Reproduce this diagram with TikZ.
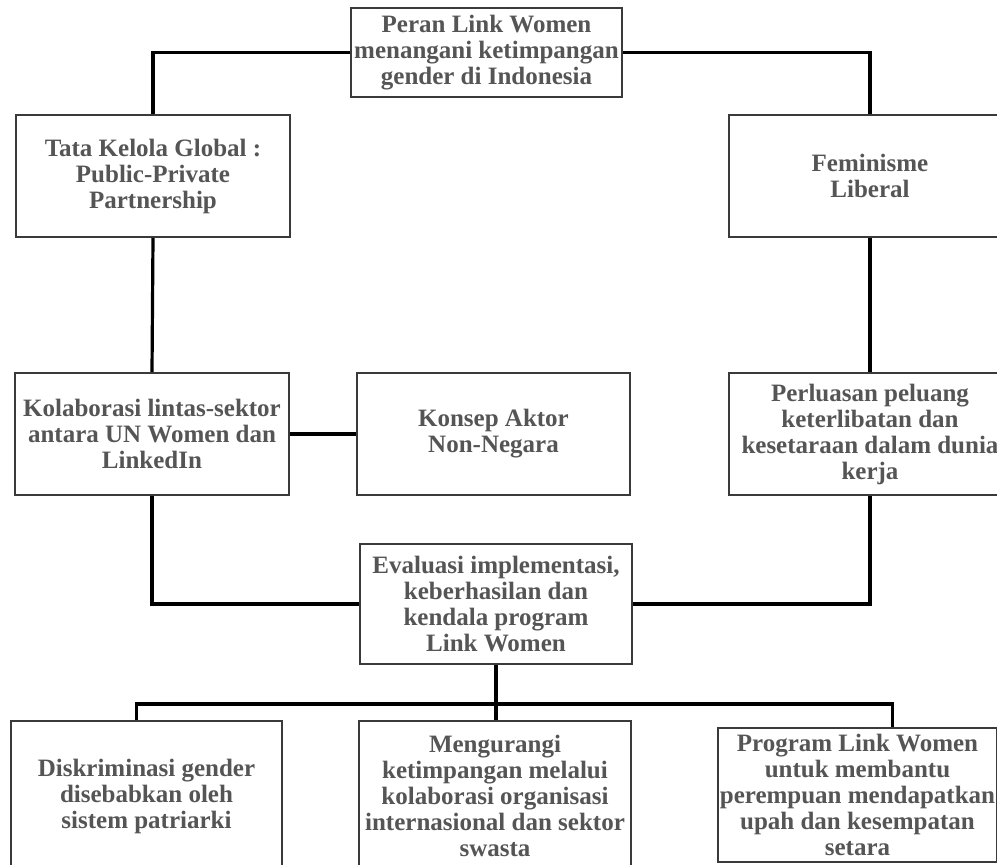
\documentclass[tikz,border=0pt]{standalone}
\usepackage{fontspec}
\setmainfont{Liberation Serif}
\usetikzlibrary{positioning,calc}
\definecolor{boxgray}{HTML}{3A3A3A}
\definecolor{textgray}{HTML}{555555}

\begin{document}
\begin{tikzpicture}[
		x=0.5pt,
		y=-0.5pt,
		line join=miter,
		kotak/.style={draw=boxgray,line width=1pt,fill=white,align=center,
			text=textgray,font=\fontsize{12.5}{13}\selectfont\bfseries,inner sep=1pt},
		garis/.style={line width=1.6pt,black}
	]
	
	% Page frame
	\useasboundingbox (0,0) rectangle (997,865);
	
	% Top box
	\node[kotak,minimum width=135.5pt,minimum height=44.5pt] (peran) at (486.5,52.5)
	{Peran Link Women\\menangani ketimpangan\\gender di Indonesia};
	
	% Theory boxes
	\node[kotak,minimum width=137pt,minimum height=61pt] (tata) at (153,176)
	{Tata Kelola Global :\\Public-Private\\Partnership};
	\node[kotak,minimum width=141pt,minimum height=61pt] (feminis) at (870,176)
	{Feminisme\\Liberal};
	
	% Middle row
	\node[kotak,minimum width=137pt,minimum height=61pt] (kolab) at (152,434)
	{Kolaborasi lintas-sektor\\antara UN Women dan\\LinkedIn};
	\node[kotak,minimum width=136.5pt,minimum height=61pt] (aktor) at (493.5,434)
	{Konsep Aktor\\Non-Negara};
	\node[kotak,minimum width=141pt,minimum height=61pt] (peluang) at (870,434)
	{Perluasan peluang\\keterlibatan dan\\kesetaraan dalam dunia\\kerja};
	
	% Evaluation box
	\node[kotak,minimum width=136pt,minimum height=60pt] (evaluasi) at (496,604)
	{Evaluasi implementasi,\\keberhasilan dan\\kendala program\\Link Women};
	
	% Bottom row
	\node[kotak,minimum width=135.5pt,minimum height=75pt] (diskrim) at (146.5,796)
	{Diskriminasi gender\\disebabkan oleh\\sistem patriarki};
	\node[kotak,minimum width=136pt,minimum height=75pt] (kurangi) at (495,796)
	{Mengurangi\\ketimpangan melalui\\kolaborasi organisasi\\internasional dan sektor\\swasta};
	\node[kotak,minimum width=135.5pt,minimum height=67pt] (program) at (857.5,795)
	{Program Link Women\\untuk membantu\\perempuan mendapatkan\\upah dan kesempatan\\setara};
	
	% Connectors
	\draw[garis] (peran.west) -| (tata.north);
	\draw[garis] (peran.east) -| (feminis.north);
	\draw[garis] (tata.south) -- (kolab.north);
	\draw[garis] (feminis.south) -- (peluang.north);
	\draw[garis] (kolab.east) -- (aktor.west);
	\draw[garis] (kolab.south) |- (evaluasi.west);
	\draw[garis] (peluang.south) |- (evaluasi.east);
	
	% Branch to the findings
	\coordinate (cabang) at ($(evaluasi.south)+(0,39)$);
	\draw[garis] (evaluasi.south) -- (cabang);
	\draw[garis] (cabang) -| ($(diskrim.north)+(-10,0)$);
	\draw[garis] (cabang) -- ($(kurangi.north)+(1,0)$);
	\draw[garis] (cabang) -| ($(program.north)+(35,0)$);
	
\end{tikzpicture}
\end{document}
